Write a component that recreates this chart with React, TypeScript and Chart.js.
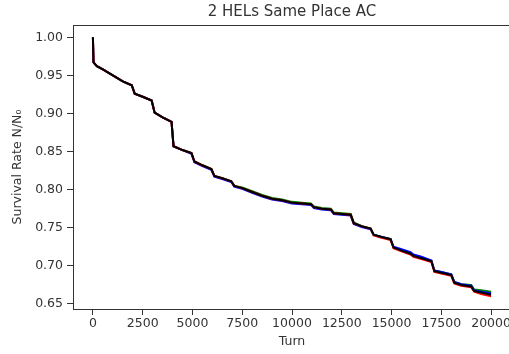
import React, { useEffect, useRef } from "react";
import { Chart, registerables } from "chart.js";

Chart.register(...registerables);

// Turn numbers at which the survival curves are sampled
const turns = [
  0, 30, 200, 500, 1000, 1500, 1950, 2100, 2500, 2950, 3100, 3500, 3950, 4050,
  4500, 4950, 5100, 5500, 5950, 6100, 6500, 6950, 7100, 7500, 8000, 8500, 9000,
  9500, 10000, 10500, 10950, 11100, 11500, 11950, 12100, 12500, 12950, 13100,
  13500, 13950, 14100, 14500, 14950, 15100, 15500, 15950, 16100, 16500, 17000,
  17150, 17500, 18000, 18150, 18500, 19000, 19150, 19500, 20000,
];

// Survival rate N/N0 for each run
const runBlack = [
  1.0, 0.967, 0.962, 0.958, 0.95, 0.942, 0.937, 0.926, 0.922, 0.917, 0.901,
  0.895, 0.889, 0.857, 0.852, 0.848, 0.837, 0.832, 0.827, 0.818, 0.815, 0.811,
  0.805, 0.802, 0.797, 0.792, 0.788, 0.786, 0.783, 0.782, 0.781, 0.777, 0.775,
  0.774, 0.769, 0.768, 0.767, 0.756, 0.752, 0.749, 0.741, 0.738, 0.735, 0.724,
  0.72, 0.716, 0.713, 0.71, 0.706, 0.693, 0.691, 0.688, 0.678, 0.675, 0.673,
  0.667, 0.665, 0.662,
];

const runRed = [
  1.0, 0.967, 0.962, 0.958, 0.95, 0.942, 0.937, 0.926, 0.922, 0.917, 0.901,
  0.895, 0.889, 0.857, 0.852, 0.848, 0.837, 0.832, 0.827, 0.818, 0.815, 0.811,
  0.805, 0.802, 0.797, 0.792, 0.788, 0.786, 0.783, 0.782, 0.781, 0.777, 0.775,
  0.774, 0.769, 0.768, 0.767, 0.756, 0.752, 0.749, 0.74, 0.737, 0.734, 0.723,
  0.719, 0.715, 0.712, 0.709, 0.705, 0.692, 0.69, 0.687, 0.677, 0.674, 0.672,
  0.666, 0.663, 0.66,
];

const runBlue = [
  1.0, 0.967, 0.962, 0.958, 0.95, 0.942, 0.937, 0.926, 0.922, 0.917, 0.901,
  0.895, 0.889, 0.857, 0.852, 0.847, 0.836, 0.831, 0.826, 0.817, 0.814, 0.81,
  0.804, 0.801, 0.796, 0.791, 0.787, 0.785, 0.782, 0.781, 0.78, 0.776, 0.774,
  0.773, 0.768, 0.767, 0.766, 0.755, 0.751, 0.748, 0.741, 0.738, 0.735, 0.725,
  0.722, 0.718, 0.715, 0.712, 0.707, 0.694, 0.692, 0.689, 0.679, 0.676, 0.674,
  0.668, 0.666, 0.664,
];

const runGreen = [
  1.0, 0.967, 0.962, 0.958, 0.95, 0.942, 0.937, 0.926, 0.922, 0.917, 0.901,
  0.895, 0.889, 0.857, 0.852, 0.848, 0.837, 0.832, 0.827, 0.818, 0.815, 0.811,
  0.805, 0.803, 0.798, 0.793, 0.789, 0.787, 0.784, 0.783, 0.782, 0.778, 0.776,
  0.775, 0.77, 0.769, 0.768, 0.757, 0.752, 0.749, 0.741, 0.738, 0.735, 0.724,
  0.72, 0.716, 0.713, 0.71, 0.707, 0.694, 0.692, 0.689, 0.679, 0.676, 0.675,
  0.669, 0.668, 0.666,
];

const xTicks = [0, 2500, 5000, 7500, 10000, 12500, 15000, 17500, 20000];
const yTicks = [0.65, 0.7, 0.75, 0.8, 0.85, 0.9, 0.95, 1.0];

const TEXT = "#333333";
const FONT = "'DejaVu Sans', sans-serif";

const toPoints = (ys: number[]) => turns.map((t, i) => ({ x: t, y: ys[i] }));

// Closes the axes box with a top and right spine
const framePlugin = {
  id: "frame",
  afterDatasetsDraw(chart: any) {
    const { ctx, chartArea } = chart;
    ctx.save();
    ctx.strokeStyle = TEXT;
    ctx.lineWidth = 1;
    ctx.beginPath();
    ctx.moveTo(chartArea.left, chartArea.top + 0.5);
    ctx.lineTo(chartArea.right, chartArea.top + 0.5);
    ctx.moveTo(chartArea.right - 0.5, chartArea.top);
    ctx.lineTo(chartArea.right - 0.5, chartArea.bottom);
    ctx.stroke();
    ctx.restore();
  },
};

export default function App() {
  const canvasRef = useRef<HTMLCanvasElement | null>(null);

  useEffect(() => {
    if (!canvasRef.current) return;
    const line = (label: string, data: number[], color: string) => ({
      label,
      data: toPoints(data),
      borderColor: color,
      backgroundColor: color,
      borderWidth: 2,
      pointRadius: 0,
      tension: 0,
      fill: false,
    });

    const chart = new Chart(canvasRef.current, {
      type: "line",
      data: {
        datasets: [
          line("run 1", runBlack, "#000000"),
          line("run 2", runRed, "#ff0000"),
          line("run 3", runBlue, "#0000ff"),
          line("run 4", runGreen, "#008000"),
        ],
      },
      plugins: [framePlugin],
      options: {
        responsive: false,
        animation: false,
        devicePixelRatio: 1,
        layout: { padding: { left: 0, right: 9, top: 0, bottom: 0 } },
        plugins: {
          legend: { display: false },
          tooltip: { enabled: false },
          title: {
            display: true,
            text: "2 HELs Same Place AC",
            fullSize: false,
            color: TEXT,
            font: { family: FONT, size: 15, weight: "normal", lineHeight: 1.2 },
            padding: { top: 3, bottom: 4 },
          },
        },
        scales: {
          x: {
            type: "linear",
            min: -1000,
            max: 21000,
            afterBuildTicks: (s: any) => {
              s.ticks = xTicks.map((v) => ({ value: v }));
            },
            afterFit: (s: any) => {
              s.height = 45;
            },
            ticks: {
              color: TEXT,
              font: { family: FONT, size: 12.5 },
              padding: 1,
              maxRotation: 0,
              autoSkip: false,
              callback: (v: any) => String(v),
            },
            grid: {
              drawOnChartArea: false,
              drawTicks: true,
              tickLength: 6,
              tickColor: TEXT,
            },
            border: { display: true, color: TEXT, width: 1 },
            title: {
              display: true,
              text: "Turn",
              color: TEXT,
              font: { family: FONT, size: 12.5, lineHeight: 1.2 },
              padding: { top: 0, bottom: 5 },
            },
          },
          y: {
            type: "linear",
            min: 0.6434,
            max: 1.0161,
            afterBuildTicks: (s: any) => {
              s.ticks = yTicks.map((v) => ({ value: v }));
            },
            afterFit: (s: any) => {
              s.width = 73;
            },
            ticks: {
              color: TEXT,
              font: { family: FONT, size: 12.5 },
              padding: 4,
              autoSkip: false,
              callback: (v: any) => Number(v).toFixed(2),
            },
            grid: {
              drawOnChartArea: false,
              drawTicks: true,
              tickLength: 6,
              tickColor: TEXT,
            },
            border: { display: true, color: TEXT, width: 1 },
            title: {
              display: true,
              text: "Survival Rate N/N\u2080",
              color: TEXT,
              font: { family: FONT, size: 12.5, lineHeight: 1.2 },
              padding: { top: 10.5, bottom: 0 },
            },
          },
        },
      },
    } as any);

    return () => chart.destroy();
  }, []);

  return (
    <div
      style={{
        position: "absolute",
        left: 0,
        top: 0,
        width: 509,
        height: 354,
        overflow: "hidden",
        background: "#ffffff",
      }}
    >
      <canvas ref={canvasRef} width={520} height={354} style={{ width: 520, height: 354 }} />
    </div>
  );
}
